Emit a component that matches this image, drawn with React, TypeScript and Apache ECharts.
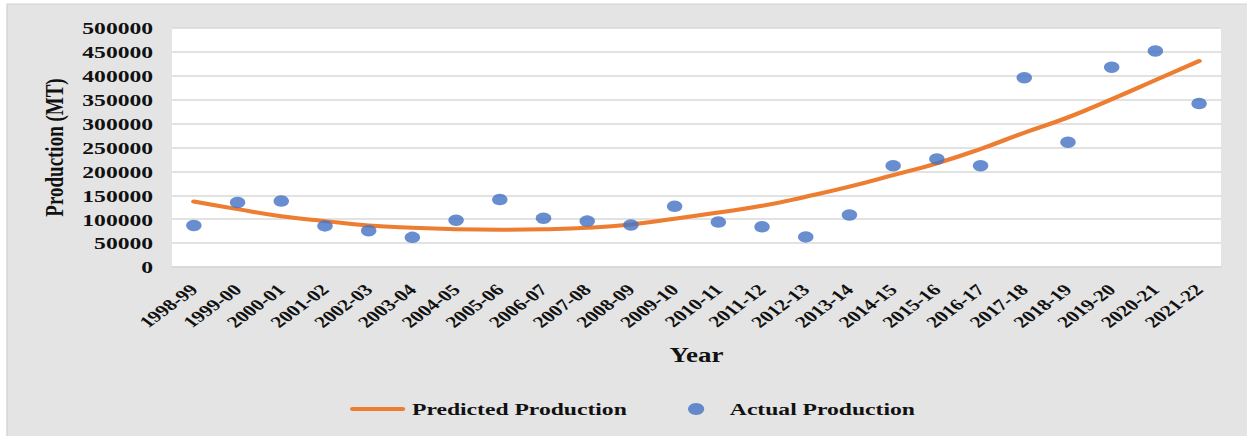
import React, { useEffect, useRef } from "react";
import * as echarts from "echarts";

// Crop years (x axis categories)
const categories = [
  "1998-99", "1999-00", "2000-01", "2001-02", "2002-03", "2003-04",
  "2004-05", "2005-06", "2006-07", "2007-08", "2008-09", "2009-10",
  "2010-11", "2011-12", "2012-13", "2013-14", "2014-15", "2015-16",
  "2016-17", "2017-18", "2018-19", "2019-20", "2020-21", "2021-22",
];

// Observed production (MT)
const actualProduction = [
  87000, 135000, 138000, 86000, 76000, 62000,
  98000, 141000, 102000, 96000, 88000, 127000,
  94000, 84000, 63000, 109000, 212000, 226000,
  212000, 396000, 261000, 418000, 452000, 342000,
];

// Fitted trend (MT)
const predictedProduction = [
  137000, 121000, 106000, 96000, 87000, 82000,
  79000, 78000, 79000, 82000, 89000, 101000,
  114000, 128000, 147000, 168000, 192000, 217000,
  247000, 281000, 313000, 351000, 391000, 431000,
];

const yMin = 0;
const yMax = 500000;
const yStep = 50000;

const FONT = "'Liberation Serif', 'Times New Roman', Times, serif";
const PAGE_W = 1247;
const PAGE_H = 436;
// The chart is laid out on a narrower canvas and widened horizontally.
const STRETCH = 1.3496;
const CHART_W = Math.round(PAGE_W / STRETCH);

const legendText = {
  fontFamily: FONT,
  fontWeight: "bold",
  fontSize: 17.5,
  color: "#111",
};

export default function App() {
  const ref = useRef<HTMLDivElement>(null);

  useEffect(() => {
    if (!ref.current) return;
    const chart = echarts.init(ref.current, undefined, { renderer: "svg" });
    chart.setOption({
      animation: false,
      backgroundColor: "#ffffff",
      graphic: [
        {
          type: "rect",
          z: -100,
          silent: true,
          shape: { x: 5.2, y: 4, width: CHART_W, height: PAGE_H },
          style: { fill: "#e4e4e4", stroke: "#d3d3d3", lineWidth: 1 },
        },
      ],
      grid: {
        left: 127.45,
        right: CHART_W - 904.7,
        top: 28,
        bottom: PAGE_H - 267,
        show: true,
        backgroundColor: "#ffffff",
        borderWidth: 0,
        containLabel: false,
        outerBoundsMode: "none",
      },
      legend: [
        {
          left: 259.3,
          top: 400,
          padding: 0,
          itemWidth: 41,
          itemHeight: 13,
          textStyle: legendText,
          data: [
            {
              name: "Predicted Production",
              icon: "path://M2,0L39,0A2,2 0 0 1 39,4L2,4A2,2 0 0 1 2,0Z",
            },
          ],
        },
        {
          left: 509.8,
          top: 400,
          padding: 0,
          itemWidth: 12,
          itemHeight: 12,
          textStyle: { ...legendText, padding: [0, 0, 0, 14] },
          data: [{ name: "Actual Production", icon: "circle" }],
        },
      ],
      xAxis: {
        type: "category",
        data: categories,
        boundaryGap: true,
        name: "Year",
        nameLocation: "middle",
        nameGap: 78,
        nameTextStyle: {
          fontFamily: FONT,
          fontWeight: "bold",
          fontSize: 20,
          color: "#111",
        },
        axisTick: { show: false },
        axisLine: { lineStyle: { color: "#d9d9d9", width: 1.5 } },
        axisLabel: {
          interval: 0,
          rotate: 45,
          margin: 20,
          fontFamily: FONT,
          fontWeight: "bold",
          fontSize: 16,
          color: "#111",
        },
      },
      yAxis: {
        type: "value",
        min: yMin,
        max: yMax,
        interval: yStep,
        name: "Production (MT)",
        nameLocation: "middle",
        nameGap: 72,
        nameTextStyle: {
          fontFamily: FONT,
          fontWeight: "bold",
          fontSize: 19,
          color: "#111",
        },
        axisLine: { show: false },
        axisTick: { show: false },
        splitLine: { lineStyle: { color: "#d9d9d9", width: 1.5 } },
        axisLabel: {
          margin: 14,
          fontFamily: FONT,
          fontWeight: "bold",
          fontSize: 17.5,
          color: "#111",
          formatter: (v: number) => String(v),
        },
      },
      series: [
        {
          name: "Predicted Production",
          type: "line",
          data: predictedProduction,
          smooth: true,
          showSymbol: false,
          symbol: "none",
          lineStyle: { color: "#ed7d31", width: 4, cap: "round" },
          itemStyle: { color: "#ed7d31" },
          z: 2,
        },
        {
          name: "Actual Production",
          type: "scatter",
          data: actualProduction,
          symbol: "circle",
          symbolSize: 11.5,
          itemStyle: { color: "#4472c4" },
          z: 3,
        },
      ],
    });
    return () => chart.dispose();
  }, []);

  return (
    <div
      style={{
        position: "fixed",
        left: 0,
        top: 0,
        width: PAGE_W,
        height: PAGE_H,
        overflow: "hidden",
        background: "#ffffff",
      }}
    >
      <div
        ref={ref}
        style={{
          width: CHART_W,
          height: PAGE_H,
          transform: `scaleX(${PAGE_W / CHART_W})`,
          transformOrigin: "0 0",
        }}
      />
    </div>
  );
}
